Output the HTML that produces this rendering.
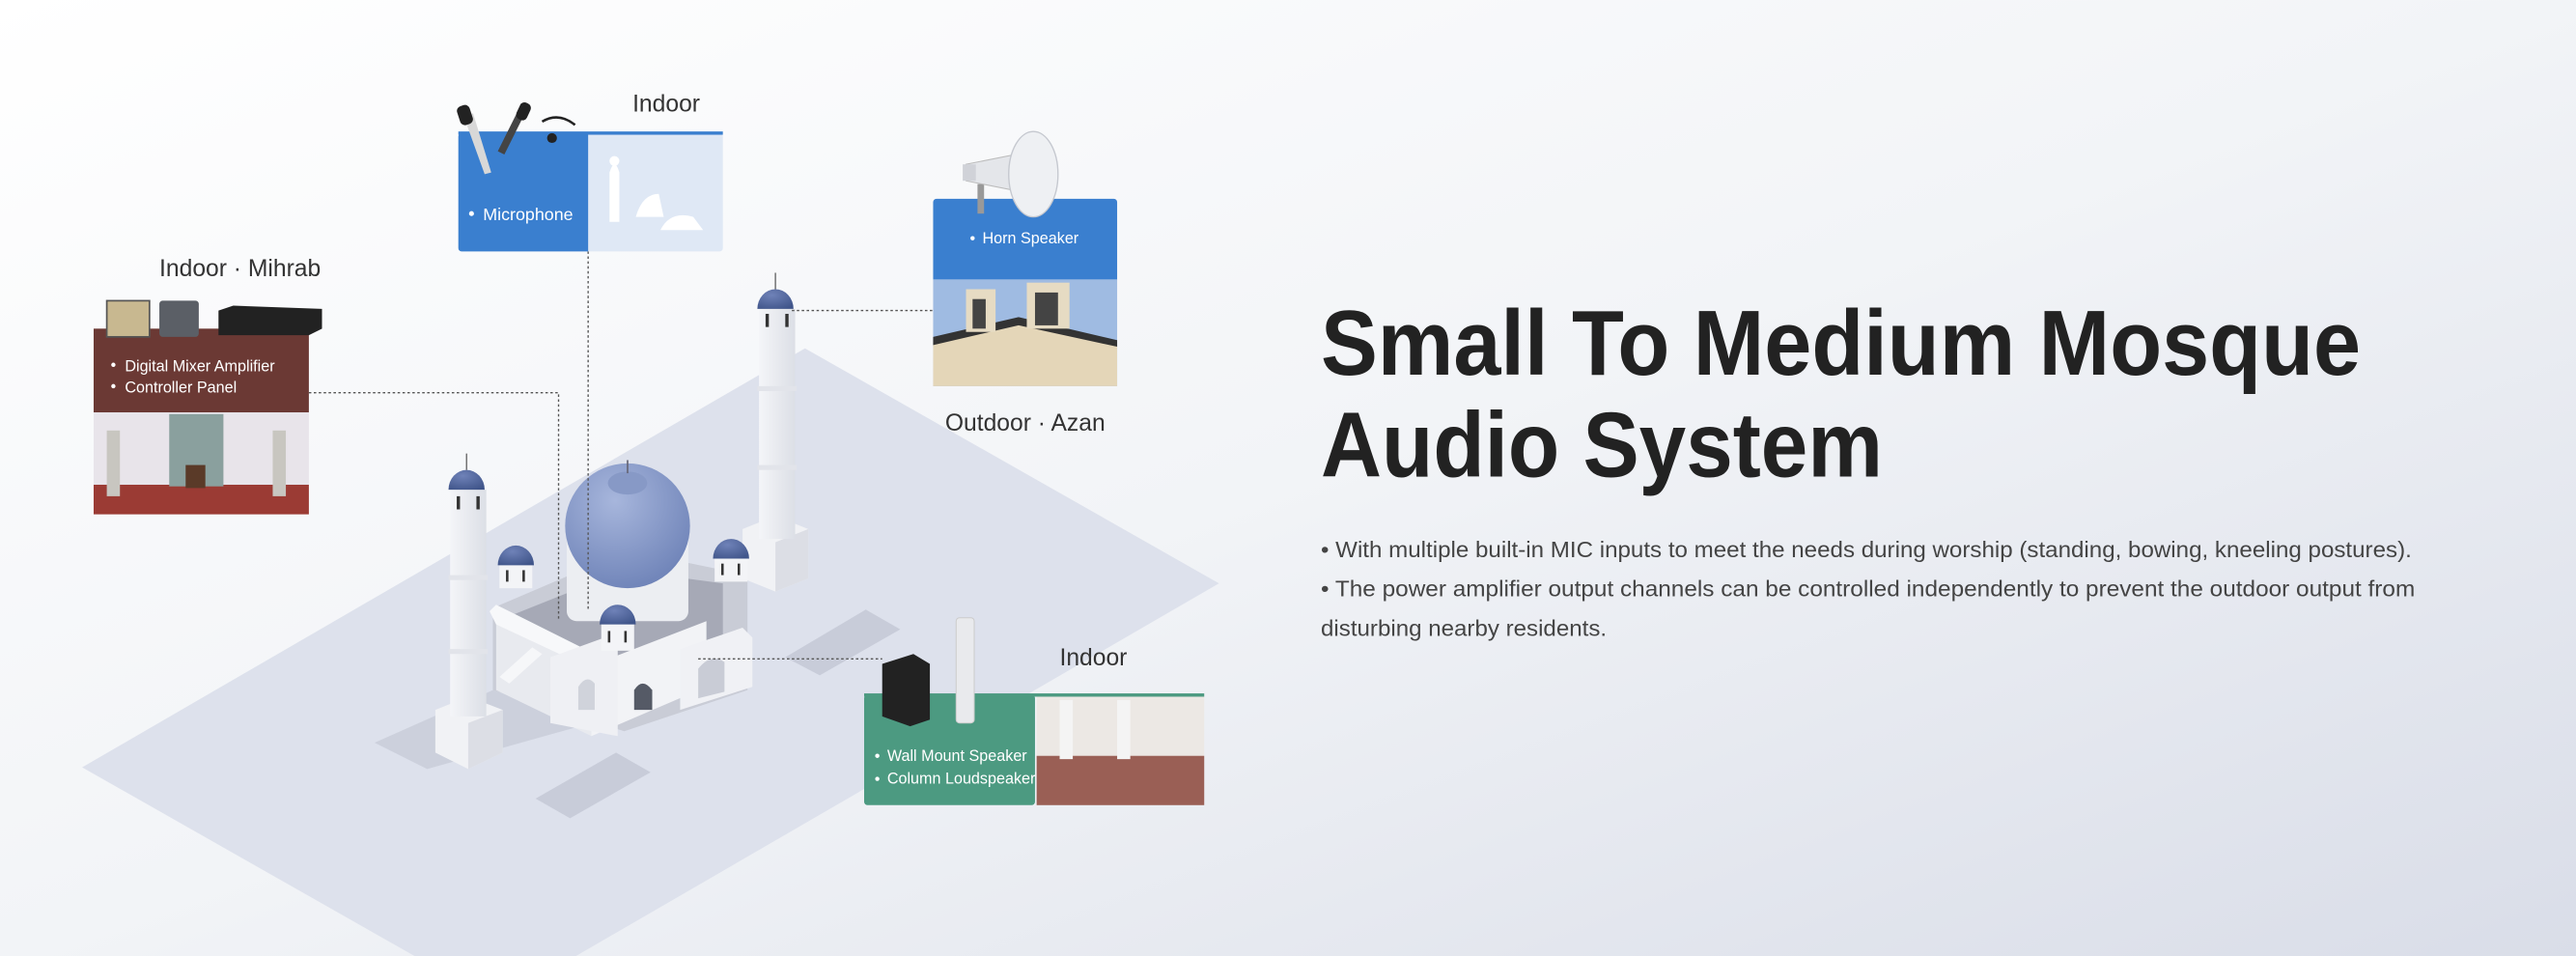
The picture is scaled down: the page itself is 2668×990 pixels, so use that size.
<!DOCTYPE html>
<html><head><meta charset="utf-8"><style>
html,body{margin:0;padding:0;width:2668px;height:990px;overflow:hidden}
svg{display:block}
text{font-family:"Liberation Sans",sans-serif}
</style></head><body>
<svg width="2668" height="990" viewBox="0 0 1568 581.8" xmlns="http://www.w3.org/2000/svg">
<defs>
<linearGradient id="bg" x1="0" y1="0" x2="1" y2="1">
<stop offset="0" stop-color="#ffffff"/><stop offset="0.5" stop-color="#f2f4f7"/><stop offset="1" stop-color="#d9dde8"/>
</linearGradient>
<radialGradient id="dome" cx="0.4" cy="0.3" r="0.8">
<stop offset="0" stop-color="#a7b6dc"/><stop offset="1" stop-color="#6a7fb5"/>
</radialGradient>
<radialGradient id="sd" cx="0.4" cy="0.3" r="0.8">
<stop offset="0" stop-color="#6f82b8"/><stop offset="1" stop-color="#3f5489"/>
</radialGradient>
<linearGradient id="wh" x1="0" x2="1"><stop offset="0" stop-color="#f4f5f8"/><stop offset="1" stop-color="#dcdfe6"/></linearGradient>
</defs>
<rect width="1568" height="582" fill="url(#bg)"/>
<!-- platform -->
<polygon points="50,467 490,212 742,355 302,610" fill="#dde1ec"/>
<polygon points="326,486 375,458 396,470 347,498" fill="#c8ccd9"/>
<polygon points="478,400 527,371 548,383 499,411" fill="#c8ccd9"/>
<polygon points="228,452 300,420 360,440 260,468" fill="#ccd0dc"/>
<!-- mosque -->
<polygon points="300,370 382,335 455,350 455,420 380,445 300,420" fill="#c9ccd6"/>
<polygon points="310,375 380,347 440,355 440,395 378,412 310,392" fill="#a6a9b6"/>
<rect x="345" y="318" width="74" height="60" rx="6" fill="#eceef2"/>
<circle cx="382" cy="320" r="38" fill="url(#dome)"/>
<ellipse cx="382" cy="294" rx="12" ry="7" fill="#8799c6"/>
<line x1="382" y1="280" x2="382" y2="288" stroke="#667" stroke-width="1"/>
<!-- front walls -->
<polygon points="302,378 360,405 360,448 302,420" fill="#e8eaef"/>
<polygon points="360,405 430,378 430,418 360,448" fill="#f2f3f6"/>
<polygon points="298,372 302,368 362,398 362,408 302,380" fill="#f7f8fa"/>
<polygon points="335,400 368,388 376,395 376,448 335,440" fill="#eff0f4"/>
<polygon points="414,395 452,382 458,388 458,418 414,432" fill="#f0f1f5"/>
<path d="M425 425 v-18 q8-10 16 -4 v18 z" fill="#c9ccd6"/>
<path d="M386 432 v-12 q5-8 11 0 v12 z" fill="#555a66"/>
<path d="M352 432 v-14 q5-8 10 -2 v16 z" fill="#d0d3db"/>
<path d="M304 412 l20 -18 l6 4 l-20 18 z" fill="#f6f7f9"/>
<!-- left minaret -->
<polygon points="265,432 285,424 306,432 306,458 285,468 265,458" fill="#f1f2f5"/>
<polygon points="285,440 306,432 306,458 285,468" fill="#dcdee5"/>
<rect x="274" y="298" width="22" height="138" fill="url(#wh)"/>
<rect x="273" y="350" width="24" height="3" fill="#e2e4ea"/>
<rect x="273" y="395" width="24" height="3" fill="#e2e4ea"/>
<path d="M273 298 a11 12 0 0 1 22 0 z" fill="url(#sd)"/>
<rect x="278" y="302" width="2" height="8" fill="#333"/><rect x="290" y="302" width="2" height="8" fill="#333"/>
<line x1="284" y1="276" x2="284" y2="286" stroke="#666" stroke-width="0.8"/>
<!-- right minaret -->
<polygon points="452,322 472,314 492,322 492,352 472,360 452,352" fill="#f1f2f5"/>
<polygon points="472,330 492,322 492,352 472,360" fill="#dcdee5"/>
<rect x="462" y="188" width="22" height="140" fill="url(#wh)"/>
<rect x="461" y="235" width="24" height="3" fill="#e2e4ea"/>
<rect x="461" y="283" width="24" height="3" fill="#e2e4ea"/>
<path d="M461 188 a11 12 0 0 1 22 0 z" fill="url(#sd)"/>
<rect x="466" y="191" width="2" height="8" fill="#333"/><rect x="478" y="191" width="2" height="8" fill="#333"/>
<line x1="472" y1="166" x2="472" y2="176" stroke="#666" stroke-width="0.8"/>
<!-- small domes -->
<g><rect x="304" y="342" width="20" height="16" fill="#f3f4f7"/><path d="M303 344 a11 12 0 0 1 22 0 z" fill="url(#sd)"/><rect x="308" y="347" width="1.5" height="7" fill="#333"/><rect x="318" y="347" width="1.5" height="7" fill="#333"/></g>
<g><rect x="435" y="338" width="20" height="16" fill="#f3f4f7"/><path d="M434 340 a11 12 0 0 1 22 0 z" fill="url(#sd)"/><rect x="439" y="343" width="1.5" height="7" fill="#333"/><rect x="449" y="343" width="1.5" height="7" fill="#333"/></g>
<g><rect x="366" y="378" width="20" height="18" fill="#f3f4f7"/><path d="M365 380 a11 12 0 0 1 22 0 z" fill="url(#sd)"/><rect x="370" y="384" width="1.5" height="7" fill="#333"/><rect x="380" y="384" width="1.5" height="7" fill="#333"/></g>
<!-- dotted connectors -->
<g stroke="#555" stroke-width="0.8" stroke-dasharray="1.5,1.5" fill="none">
<polyline points="188,239 340,239 340,378"/>
<line x1="358" y1="153" x2="358" y2="372"/>
<line x1="482" y1="189" x2="568" y2="189"/>
<line x1="425" y1="401" x2="537" y2="401"/>
</g>
<!-- Mic card -->
<text x="385" y="68" font-size="14.5" fill="#333">Indoor</text>
<rect x="279" y="81" width="161" height="72" rx="2" fill="#dfe8f5"/>
<path d="M281 81 h77 v72 h-77 a2 2 0 0 1 -2 -2 v-68 a2 2 0 0 1 2 -2z" fill="#3a7fcf"/>
<rect x="279" y="80" width="161" height="2" fill="#3a7fcf"/>
<g fill="#fff"><path d="M371 135 v-30 q3-10 6 0 v30z"/><circle cx="374" cy="98" r="3"/><path d="M387 132 q4-14 14-14 l3 14z"/><path d="M402 140 q6-12 20-8 l6 8z"/></g>
<circle cx="287" cy="130" r="1.5" fill="#fff"/>
<text x="294" y="134" font-size="10.5" fill="#fff">Microphone</text>
<g><path d="M282 70 l13 36 l4 -1 l-11 -36z" fill="#d8d8d8"/><rect x="279" y="64" width="8" height="12" rx="3" fill="#222" transform="rotate(-18 283 70)"/>
<path d="M303 92 l12 -24 l4 2 l-12 24z" fill="#444"/><rect x="315" y="62" width="7" height="11" rx="3" fill="#222" transform="rotate(25 318 68)"/>
<path d="M330 74 q10 -6 20 2" stroke="#222" stroke-width="1.5" fill="none"/><circle cx="336" cy="84" r="3" fill="#222"/></g>
<!-- Mihrab card -->
<text x="97" y="168" font-size="14.5" fill="#333">Indoor · Mihrab</text>
<rect x="57" y="200" width="131" height="51" fill="#6b3934"/>
<rect x="57" y="251" width="131" height="62" fill="#e8e4ea"/>
<rect x="57" y="295" width="131" height="18" fill="#9b3b34"/>
<rect x="103" y="252" width="33" height="44" fill="#8aa09e"/>
<rect x="65" y="262" width="8" height="40" fill="#c8c6c0"/><rect x="166" y="262" width="8" height="40" fill="#c8c6c0"/>
<rect x="113" y="283" width="12" height="14" fill="#5a3a28"/>
<g fill="#fff"><circle cx="69" cy="222" r="1.3"/><circle cx="69" cy="235" r="1.3"/></g>
<text x="76" y="226" font-size="9.5" fill="#fff">Digital Mixer Amplifier</text>
<text x="76" y="239" font-size="9.5" fill="#fff">Controller Panel</text>
<rect x="65" y="183" width="26" height="22" fill="#c8b890" stroke="#555" stroke-width="1"/>
<rect x="97" y="183" width="24" height="22" rx="2" fill="#5b5f66"/>
<polygon points="133,189 142,186 196,188 196,200 188,204 133,204" fill="#222"/>
<!-- Horn card -->
<rect x="568" y="121" width="112" height="51" rx="2" fill="#3a7fcf"/>
<rect x="568" y="170" width="112" height="65" fill="#9fbbe2"/>
<polygon points="568,208 620,196 680,210 680,235 568,235" fill="#e4d6b8"/>
<polygon points="568,205 620,193 680,207 680,211 620,198 568,210" fill="#333"/>
<rect x="588" y="176" width="18" height="26" fill="#e6dbc3"/><rect x="625" y="172" width="26" height="28" fill="#e6dbc3"/>
<rect x="592" y="182" width="8" height="18" fill="#444"/><rect x="630" y="178" width="14" height="20" fill="#444"/>
<circle cx="592" cy="145" r="1.3" fill="#fff"/>
<text x="598" y="148" font-size="9.5" fill="#fff">Horn Speaker</text>
<g><rect x="595" y="112" width="4" height="18" fill="#999"/><path d="M588 100 l30 -6 l0 22 l-30 -6z" fill="#e4e6ea" stroke="#bbb" stroke-width="0.6"/><ellipse cx="629" cy="106" rx="15" ry="26" fill="#eef0f3" stroke="#c5c8cf" stroke-width="0.8"/><rect x="586" y="100" width="8" height="10" fill="#d0d2d8"/></g>
<text x="624" y="262" font-size="14.5" fill="#333" text-anchor="middle">Outdoor · Azan</text>
<!-- Green card -->
<text x="645" y="405" font-size="14.5" fill="#333">Indoor</text>
<rect x="526" y="423" width="104" height="67" rx="2" fill="#4c9a81"/>
<rect x="631" y="423" width="102" height="67" fill="#ece8e4"/>
<rect x="631" y="460" width="102" height="30" fill="#9a5f55"/>
<rect x="645" y="426" width="8" height="36" fill="#f4f4f4"/><rect x="680" y="426" width="8" height="36" fill="#f4f4f4"/>
<rect x="526" y="422" width="207" height="2" fill="#4c9a81"/>
<g fill="#fff"><circle cx="534" cy="460" r="1.3"/><circle cx="534" cy="474" r="1.3"/></g>
<text x="540" y="463" font-size="9.5" fill="#fff">Wall Mount Speaker</text>
<text x="540" y="477" font-size="9.5" fill="#fff">Column Loudspeaker</text>
<polygon points="537,404 556,398 566,404 566,438 554,442 537,436" fill="#222"/>
<rect x="582" y="376" width="11" height="64" rx="2" fill="#e9eaed" stroke="#ccc" stroke-width="0.6"/>
<!-- title -->
<text x="804" y="228" font-size="56" font-weight="bold" fill="#222" textLength="633" lengthAdjust="spacingAndGlyphs">Small To Medium Mosque</text>
<text x="804" y="290" font-size="56" font-weight="bold" fill="#222" textLength="342" lengthAdjust="spacingAndGlyphs">Audio System</text>
<text x="804" y="339" font-size="13.5" fill="#444" textLength="664" lengthAdjust="spacingAndGlyphs">• With multiple built-in MIC inputs to meet the needs during worship (standing, bowing, kneeling postures).</text>
<text x="804" y="363" font-size="13.5" fill="#444" textLength="666" lengthAdjust="spacingAndGlyphs">• The power amplifier output channels can be controlled independently to prevent the outdoor output from</text>
<text x="804" y="387" font-size="13.5" fill="#444" textLength="174" lengthAdjust="spacingAndGlyphs">disturbing nearby residents.</text>
</svg>
</body></html>
